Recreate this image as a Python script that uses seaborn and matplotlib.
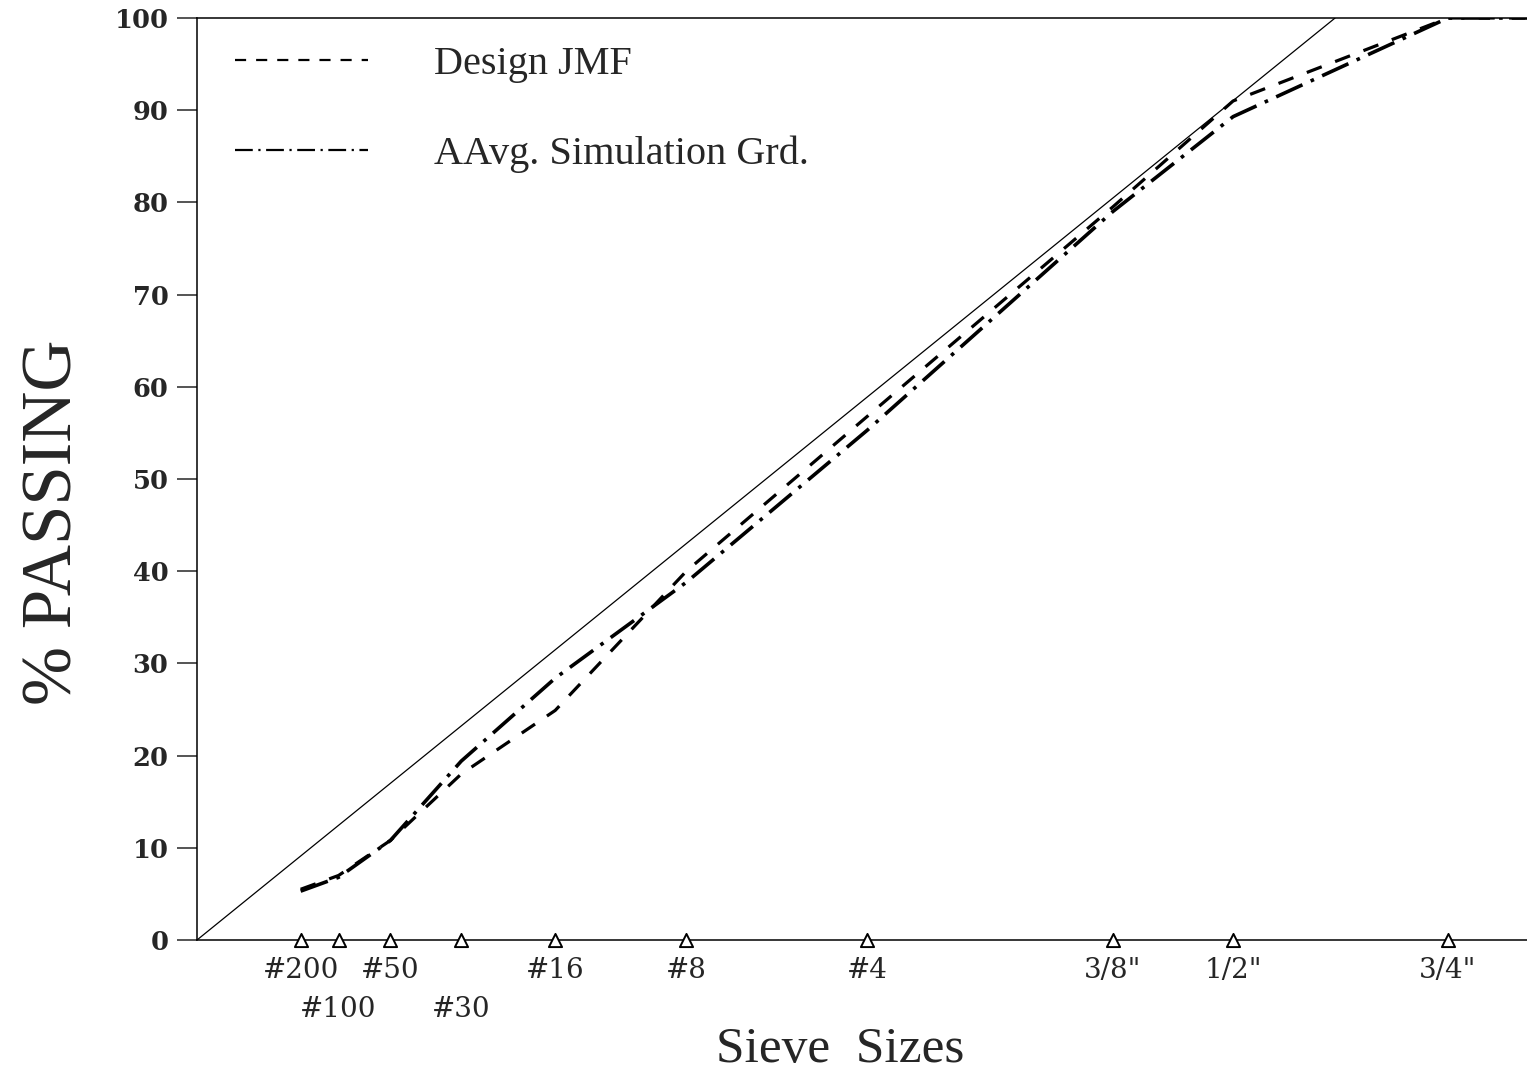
import numpy as np
import pandas as pd
import matplotlib
matplotlib.use("Agg")
import matplotlib.pyplot as plt
import seaborn as sns

# ---------------- data ----------------
sieve_labels = ['#200', '#100', '#50', '#30', '#16', '#8', '#4', '3/8"', '1/2"', '3/4"', '1"']
sieve_mm = [0.075, 0.15, 0.3, 0.6, 1.18, 2.36, 4.75, 9.5, 12.5, 19.0, 25.0]
design_jmf = [5.5, 7.0, 10.8, 18.0, 24.9, 40.0, 56.8, 79.5, 91.0, 100.0, 100.0]
avg_sim = [5.3, 6.8, 10.8, 19.4, 28.4, 38.8, 55.3, 79.0, 89.3, 100.0, 100.0]
mdl_mm = [0.0, 15.4]
mdl_pass = [0.0, 100.0]

row1 = ['#200', '#50', '#16', '#8', '#4', '3/8"', '1/2"', '3/4"']
row2 = ['#100', '#30']
marked = sieve_labels[:10]

y_ticks = list(range(0, 101, 10))

# ---------------- style ----------------
sns.set_theme(style="white")
plt.rcParams['font.family'] = ['DejaVu Serif']

POW = 0.45
def fwd(x):
    x = np.asarray(x, dtype=float)
    return np.sign(x) * np.abs(x) ** POW
def inv(y):
    y = np.asarray(y, dtype=float)
    return np.sign(y) * np.abs(y) ** (1.0 / POW)

fig = plt.figure(figsize=(15.27, 10.76), dpi=100)
ax = fig.add_axes([197 / 1527, 136 / 1076, 1 - 197 / 1527, 922 / 1076])
ax.set_xscale('function', functions=(fwd, inv))

df = pd.DataFrame({'size': sieve_mm, 'jmf': design_jmf, 'sim': avg_sim, 'label': sieve_labels})

# maximum density line
sns.lineplot(x=mdl_mm, y=mdl_pass, ax=ax, color='black', lw=0.9, legend=False)

sns.lineplot(data=df, x='size', y='jmf', ax=ax, color='black', lw=2.3,
             linestyle=(0, (5, 4.5)), label='Design JMF')
sns.lineplot(data=df, x='size', y='sim', ax=ax, color='black', lw=2.6,
             linestyle=(0, (8.0, 2.5, 1, 2.5)), label='AAvg. Simulation Grd.')

# sieve markers on the axis
mk = df[df['label'].isin(marked)]
ax.scatter(mk['size'], np.zeros(len(mk)), marker='^', s=90, facecolors='white',
           edgecolors='black', linewidths=1.4, zorder=5, clip_on=False)

ax.set_xlim(0, inv(4.0))
ax.set_ylim(0, 100)

# x ticks: two staggered rows
m1 = df[df['label'].isin(row1)]
m2 = df[df['label'].isin(row2)]
ax.set_xticks(m1['size'].tolist())
ax.set_xticklabels(m1['label'].tolist())
ax.set_xticks(m2['size'].tolist(), minor=True)
ax.set_xticklabels(m2['label'].tolist(), minor=True)
ax.tick_params(axis='x', which='major', length=0, pad=12, labelsize=20)
ax.tick_params(axis='x', which='minor', length=0, pad=40, labelsize=20)

ax.set_yticks(y_ticks)
ax.tick_params(axis='y', which='major', direction='out', length=14.5, width=1.1,
               pad=6, labelsize=18.5, left=True)
for t in ax.get_yticklabels():
    t.set_fontweight('bold')

for s in ['left', 'bottom', 'top']:
    ax.spines[s].set_visible(True)
    ax.spines[s].set_color('black')
    ax.spines[s].set_linewidth(1.1)
ax.spines['right'].set_visible(False)

ax.set_ylabel('% PASSING', family='Liberation Serif', fontsize=51)
ax.yaxis.set_label_coords(-0.083, 0.4534)
ax.set_xlabel('Sieve  Sizes', family='Liberation Serif', fontsize=37)
ax.xaxis.set_label_coords(0.4835, -0.094)

leg = ax.legend(loc='upper left', bbox_to_anchor=(0.0286, 0.97), frameon=False,
                borderpad=0, borderaxespad=0, handlelength=3.3, handletextpad=1.65,
                labelspacing=1.3, prop={'family': 'Liberation Serif', 'size': 29})
for h in leg.get_lines():
    h.set_linewidth(1.6)

ax.set_facecolor('white')
fig.patch.set_facecolor('white')
fig.savefig('out.png', dpi=100)
